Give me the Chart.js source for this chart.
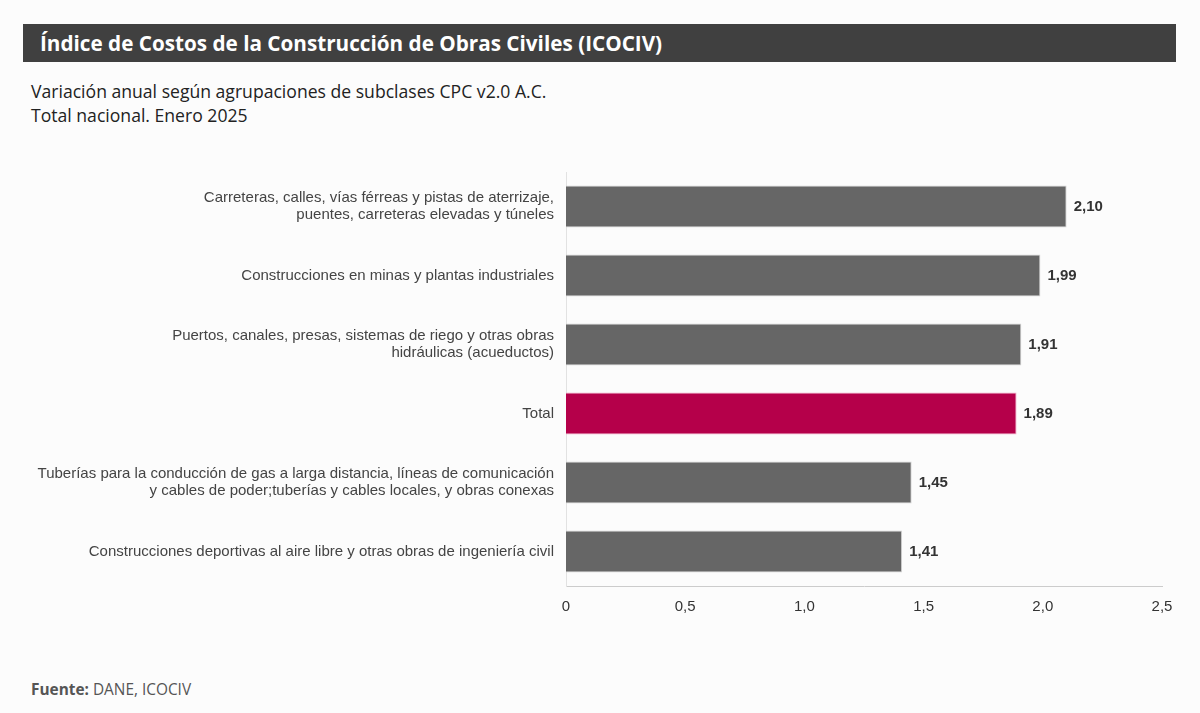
<!DOCTYPE html>
<html>
<head>
<meta charset="utf-8">
<script src="https://cdn.jsdelivr.net/npm/chart.js@4"></script>
<style>
  body { margin: 0; background: #fcfcfc; width: 1200px; height: 713px; overflow: hidden; position: relative; font-family: "Open Sans", sans-serif; }
  .titulo { position: absolute; left: 23px; top: 24px; width: 1153px; height: 38px; background: #404040; color: #fff; font-weight: bold; font-size: 20.7px; line-height: 38px; padding-left: 17px; box-sizing: border-box; }
  .sub { position: absolute; left: 31px; top: 79px; font-size: 17.6px; line-height: 24px; color: #222; }
  .fuente { position: absolute; left: 31px; top: 679px; font-size: 15.4px; color: #555; }
  #wrap { position: absolute; left: 0; top: 160px; width: 1200px; height: 470px; }
</style>
</head>
<body>
<div class="titulo">Índice de Costos de la Construcción de Obras Civiles (ICOCIV)</div>
<div class="sub">Variación anual según agrupaciones de subclases CPC v2.0 A.C.<br>Total nacional. Enero 2025</div>
<div id="wrap"><canvas id="myChart"></canvas></div>
<div class="fuente"><b>Fuente:</b> DANE, ICOCIV</div>
<script>
var categorias = [
  ['Carreteras, calles, vías férreas y pistas de aterrizaje,', 'puentes, carreteras elevadas y túneles'],
  'Construcciones en minas y plantas industriales',
  ['Puertos, canales, presas, sistemas de riego y otras obras', 'hidráulicas (acueductos)'],
  'Total',
  ['Tuberías para la conducción de gas a larga distancia, líneas de comunicación', 'y cables de poder;tuberías y cables locales, y obras conexas'],
  'Construcciones deportivas al aire libre y otras obras de ingeniería civil'
];
var variacion = [2.10, 1.99, 1.91, 1.89, 1.45, 1.41];
var ticksX = [0, 0.5, 1.0, 1.5, 2.0, 2.5];

var colores = categorias.map(function (c) { return c === 'Total' ? '#b5004a' : '#666666'; });
var bordes = categorias.map(function (c) { return c === 'Total' ? '#f2a6c4' : '#d4d4d4'; });

function coma(v, d) { return v.toFixed(d).replace('.', ','); }

var etiquetas = {
  id: 'etiquetas',
  afterDatasetsDraw: function (chart) {
    var ctx = chart.ctx;
    var meta = chart.getDatasetMeta(0);
    ctx.save();
    ctx.font = 'bold 15px "Liberation Sans", Arial, sans-serif';
    ctx.fillStyle = '#333';
    ctx.textAlign = 'left';
    ctx.textBaseline = 'middle';
    meta.data.forEach(function (bar, i) {
      ctx.fillText(coma(variacion[i], 2), bar.x + 7, bar.y);
    });
    ctx.restore();
  }
};

var ctx = document.getElementById('myChart').getContext('2d');
var myChart = new Chart(ctx, {
  type: 'bar',
  data: {
    labels: categorias,
    datasets: [{
      data: variacion,
      backgroundColor: colores,
      borderColor: bordes,
      borderWidth: 1,
      categoryPercentage: 1,
      barPercentage: 0.61
    }]
  },
  options: {
    indexAxis: 'y',
    responsive: true,
    maintainAspectRatio: false,
    animation: false,
    layout: { padding: { top: 12, right: 38, bottom: 14, left: 0 } },
    plugins: {
      legend: { display: false },
      tooltip: { enabled: false }
    },
    scales: {
      x: {
        min: 0,
        max: 2.5,
        afterBuildTicks: function (axis) {
          axis.ticks = ticksX.map(function (v) { return { value: v }; });
        },
        afterFit: function (axis) { axis.height = 30; axis.paddingLeft = 0; axis.paddingRight = 0; },
        grid: { display: false, drawTicks: false },
        border: { display: true, color: '#cccccc' },
        ticks: {
          padding: 12,
          color: '#333',
          font: { family: '"Liberation Sans", Arial, sans-serif', size: 15 },
          callback: function (v) { return v === 0 ? '0' : coma(v, 1); }
        }
      },
      y: {
        afterFit: function (axis) { axis.width = 566; axis.paddingTop = 0; axis.paddingBottom = 0; },
        grid: { display: false, drawTicks: false },
        border: { display: true, color: '#e2e2e2' },
        ticks: {
          padding: 12,
          color: '#444',
          font: { family: '"Liberation Sans", Arial, sans-serif', size: 15, lineHeight: 1.15 }
        }
      }
    }
  },
  plugins: [etiquetas]
});
</script>
</body>
</html>
